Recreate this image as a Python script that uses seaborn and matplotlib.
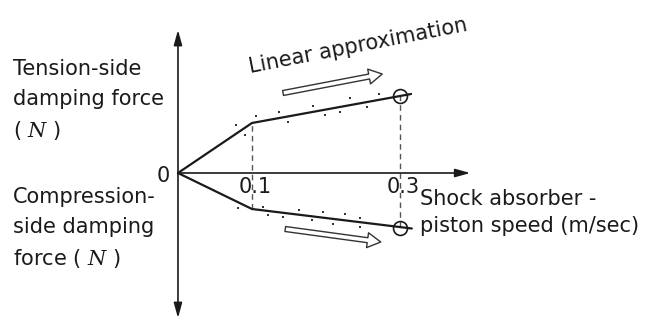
import numpy as np
import pandas as pd
import seaborn as sns
import matplotlib.pyplot as plt

sns.set_style("white")
plt.rcParams["font.family"] = ["DejaVu Sans"]
plt.rcParams["mathtext.fontset"] = "dejavuserif"

# piston speed (m/sec) vs damping force, schematic units
tension_x = [0.0, 0.1, 0.315]
tension_y = [0.0, 0.50, 0.79]
compression_x = [0.0, 0.1, 0.316]
compression_y = [0.0, -0.36, -0.555]

# measured points around the linear approximation
tension_dots_x = [0.079, 0.091, 0.106, 0.136, 0.149, 0.182, 0.199, 0.219, 0.232, 0.255, 0.271]
tension_dots_y = [0.48, 0.38, 0.57, 0.61, 0.51, 0.67, 0.58, 0.61, 0.75, 0.66, 0.79]
compression_dots_x = [0.081, 0.115, 0.122, 0.142, 0.163, 0.181, 0.196, 0.210, 0.226, 0.246, 0.246]
compression_dots_y = [-0.35, -0.34, -0.42, -0.44, -0.37, -0.47, -0.39, -0.51, -0.41, -0.45, -0.54]

marked_speed = [0.3, 0.3]
marked_force = [0.77, -0.55]
ticks = [0.1, 0.3]
tick_labels = ["0.1", "0.3"]

fig = plt.figure(figsize=(6.47, 3.23), dpi=100)
ax = fig.add_axes([0, 0, 1, 1])
ax.set_xlim(-0.2405, 0.6338)
ax.set_ylim(-1.50, 1.73)
ax.axis("off")

ink = "#1a1a1a"

# axes with arrows
ax.annotate("", xy=(0, 1.43), xytext=(0, -1.45),
            arrowprops=dict(arrowstyle="<|-|>,head_length=0.9,head_width=0.25",
                            color=ink, lw=1.2, shrinkA=0, shrinkB=0))
ax.annotate("", xy=(0.395, 0), xytext=(0, 0),
            arrowprops=dict(arrowstyle="-|>,head_length=0.9,head_width=0.25",
                            color=ink, lw=1.2, shrinkA=0, shrinkB=0))

# dashed guides
for sx in ticks:
    lo = np.interp(sx, compression_x, compression_y)
    hi = np.interp(sx, tension_x, tension_y)
    ax.plot([sx, sx], [lo, hi], ls=(0, (4, 3)), color="#555555", lw=1.0)

df_t = pd.DataFrame({"x": tension_x, "y": tension_y})
df_c = pd.DataFrame({"x": compression_x, "y": compression_y})
sns.lineplot(data=df_t, x="x", y="y", sort=False, estimator=None, color=ink, lw=1.6, ax=ax)
sns.lineplot(data=df_c, x="x", y="y", sort=False, estimator=None, color=ink, lw=1.6, ax=ax)

dots = pd.DataFrame({"x": tension_dots_x + compression_dots_x,
                     "y": tension_dots_y + compression_dots_y})
sns.scatterplot(data=dots, x="x", y="y", s=3, color="#333333", marker="s", linewidth=0, ax=ax)

ax.plot(marked_speed, marked_force, ls="none", marker="o", ms=10, mfc="none",
        mec=ink, mew=1.2)

# hollow arrows
hollow = dict(arrowstyle="simple,head_length=0.8,head_width=0.9,tail_width=0.3",
              fc="white", ec="#333333", lw=1.0, shrinkA=0, shrinkB=0, mutation_scale=12)
ax.annotate("", xy=(0.276, 0.99), xytext=(0.142, 0.80), arrowprops=hollow)
ax.annotate("", xy=(0.274, -0.69), xytext=(0.145, -0.56), arrowprops=hollow)

fs = 15
for sx, lab in zip(ticks, tick_labels):
    ax.text(sx + 0.004, -0.20, lab, ha="center", va="baseline", fontsize=fs, color=ink)
ax.text(-0.011, -0.09, "0", ha="right", va="baseline", fontsize=fs, color=ink)

ax.text(0.097, 1.00, "Linear approximation", rotation=11, rotation_mode="anchor",
        ha="left", va="baseline", fontsize=fs, color=ink)

left_x = -0.223
ax.text(left_x, 0.98, "Tension-side", fontsize=fs, va="baseline", color=ink)
ax.text(left_x, 0.68, "damping force", fontsize=fs, va="baseline", color=ink)
ax.text(left_x, 0.36, "( $N$ )", fontsize=fs, va="baseline", color=ink)
ax.text(left_x, -0.30, "Compression-", fontsize=fs, va="baseline", color=ink)
ax.text(left_x, -0.60, "side damping", fontsize=fs, va="baseline", color=ink)
ax.text(left_x, -0.92, "force ( $N$ )", fontsize=fs, va="baseline", color=ink)

ax.text(0.327, -0.32, "Shock absorber -", fontsize=fs, va="baseline", color=ink)
ax.text(0.327, -0.59, "piston speed (m/sec)", fontsize=fs, va="baseline", color=ink)

fig.savefig("out.png", dpi=100)
